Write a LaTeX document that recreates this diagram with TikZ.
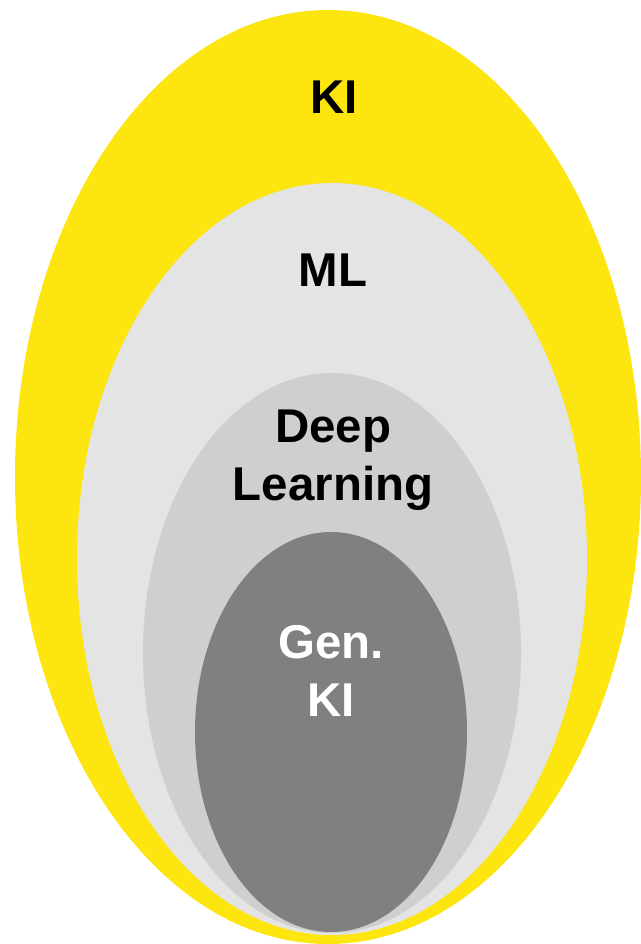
\documentclass[tikz,border=0pt]{standalone}
\usepackage{fontspec}
\setmainfont{Liberation Sans}
\usepackage{color}

\definecolor{kiyellow}{HTML}{FDE50F}
\definecolor{mlgray}{HTML}{E4E4E4}
\definecolor{dlgray}{HTML}{D0CECF}
\definecolor{gengray}{HTML}{808080}

\begin{document}
\begin{tikzpicture}[x=0.02cm,y=0.02cm,
	lbl/.style={align=center,font=\fontsize{27}{33}\selectfont\bfseries}]
	\useasboundingbox (0,0) rectangle (641,944);
	% nested fields
	\fill[kiyellow] (328,467) ellipse [x radius=313, y radius=467];
	\fill[mlgray] (332,385) ellipse [x radius=255, y radius=376];
	\fill[dlgray] (332,291) ellipse [x radius=189, y radius=280];
	\fill[gengray] (331,212) ellipse [x radius=136, y radius=200];
	% labels
	\node[lbl] (ki) at (334,847) {KI};
	\node[lbl] (ml) at (333,674) {ML};
	\node[lbl] (dl) at (333,484) {Deep\\Learning};
	\node[lbl,text=white] (gen) at (331,273) {Gen.\\KI};
\end{tikzpicture}
\end{document}
